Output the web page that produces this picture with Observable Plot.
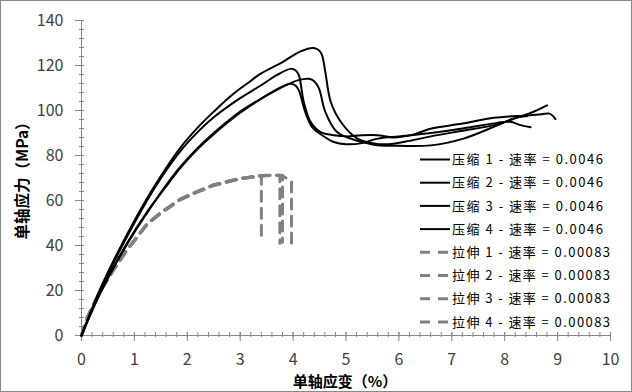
<!DOCTYPE html>
<html>
<head>
<meta charset="utf-8">
<script src="https://cdn.jsdelivr.net/npm/d3@7"></script>
<script src="https://cdn.jsdelivr.net/npm/@observablehq/plot@0.6"></script>
<style>
  html, body { margin: 0; padding: 0; background: #fff; }
  #chart svg { display: block; }
</style>
</head>
<body>
<div id="chart"></div>
<script>
// ---- data: [strain %, stress MPa] ----
const comp1 = [[0,0],[0.36,21],[0.74,39.5],[1.24,61],[1.56,73],[1.87,83.5],[2.2,92.5],[2.5,99.5],[2.85,107],[3.19,113],[3.38,116.3],[3.8,121.5],[4.14,126.3],[4.39,127.8],[4.5,126.5],[4.55,124.4],[4.61,117],[4.71,104],[4.9,95],[5.21,87.6],[5.5,85.5],[5.8,85],[6.2,86.5],[6.6,88.5],[7.2,91],[7.8,93.5],[8.2,96.5],[8.5,99],[8.8,102.3]];
const comp2 = [[0,0],[0.36,20.5],[0.74,38.5],[1.24,60],[1.56,72],[1.87,82],[2.2,90.5],[2.5,97],[3.0,105.5],[3.38,111],[3.7,115.8],[3.95,118.5],[4.05,117.8],[4.11,115.6],[4.2,104],[4.33,95],[4.52,90.4],[4.77,89],[5.0,88.5],[5.3,89],[5.6,89],[5.9,88],[6.3,89.5],[6.6,91.9],[7.2,94.2],[7.8,96.8],[8.42,97.8],[8.7,98.3],[8.85,98.6],[8.96,96.2]];
const comp3 = [[0,0],[0.36,19],[0.86,40.5],[1.24,54.5],[1.56,65.5],[1.87,75],[2.2,83.5],[2.5,90],[3.0,99.5],[3.38,105],[3.8,110.5],[4.1,113.5],[4.3,114.1],[4.4,113],[4.49,109.7],[4.61,99.3],[4.83,90.4],[5.09,87.5],[5.3,86],[5.6,84.5],[6.0,84.3],[6.6,84.5],[7.22,87.5],[7.86,93.4],[8.17,96.5],[8.42,97.5]];
const comp4 = [[0,0],[0.36,19.5],[0.86,41],[1.24,55],[1.56,65],[1.87,74.5],[2.2,83],[2.5,89.5],[3.0,99],[3.38,105],[3.7,109.5],[3.95,111.9],[4.05,111],[4.11,108.9],[4.23,99.3],[4.36,92.6],[4.55,89],[4.77,86],[5.0,85],[5.3,85.5],[5.6,87.5],[6.0,88.5],[6.6,90],[7.2,92],[7.86,94.5],[8.1,95],[8.3,93.5],[8.49,92.6]];

const tens1 = [[0,0],[0.11,8],[0.36,20],[0.6,29],[0.86,38],[1.24,49.5],[1.5,54.5],[1.87,60.5],[2.2,64],[2.5,66.8],[3.0,69.7],[3.4,71],[3.4,42]];
const tens2 = [[0,0],[0.11,8.2],[0.36,20.3],[0.6,29.3],[0.86,38.2],[1.24,49.7],[1.5,54.7],[1.87,60.7],[2.2,64.2],[2.5,67],[3.0,69.9],[3.4,71.1],[3.6,71.2],[3.75,71.2],[3.75,41]];
const tens3 = [[0,0],[0.11,7.9],[0.36,19.8],[0.6,28.8],[0.86,37.8],[1.24,49.3],[1.5,54.3],[1.87,60.3],[2.2,63.8],[2.5,66.6],[3.0,69.6],[3.4,70.9],[3.6,71.2],[3.8,71.2],[3.8,41.5]];
const tens4 = [[0,0],[0.11,8],[0.36,20.1],[0.6,29.1],[0.86,38.1],[1.24,49.6],[1.5,54.6],[1.87,60.6],[2.2,64.1],[2.5,66.9],[3.0,69.8],[3.4,71],[3.6,71.2],[3.8,71],[3.97,68.5],[3.97,40.5]];

const compNames = ["压缩 1 - 速率 = 0.0046","压缩 2 - 速率 = 0.0046","压缩 3 - 速率 = 0.0046","压缩 4 - 速率 = 0.0046"];
const tensNames = ["拉伸 1 - 速率 = 0.00083","拉伸 2 - 速率 = 0.00083","拉伸 3 - 速率 = 0.00083","拉伸 4 - 速率 = 0.00083"];

const xTicks = [0,1,2,3,4,5,6,7,8,9,10];
const yTicks = [0,20,40,60,80,100,120,140];
const xMinor = d3.range(0, 10.001, 0.2);
const yMinor = d3.range(0, 140.001, 4);

const xTitle = "单轴应变（%）";
const yTitle = "单轴应力（MPa）";

// ---- build rows ----
const compSets = [comp1, comp2, comp3, comp4];
const tensSets = [tens1, tens2, tens3, tens4];
const compRows = compSets.flatMap((s, k) => s.map(([x, y]) => ({x, y, k: compNames[k]})));
const tensRows = tensSets.flatMap((s, k) => s.map(([x, y]) => ({x, y, k: tensNames[k]})));

const axisColor = "#868686";
const font = "'Noto Sans CJK SC', 'Noto Sans', sans-serif";

const W = 632, H = 392;
const plot = Plot.plot({
  width: W, height: H,
  marginLeft: 81, marginRight: 22, marginTop: 20, marginBottom: 57,
  style: {fontFamily: font, background: "#fff", overflow: "visible"},
  x: {domain: [0, 10], label: null},
  y: {domain: [0, 140], label: null},
  marks: [
    // minor ticks
    Plot.ruleX(xMinor, {x: d => d, y1: 0, y2: 0, insetTop: -3, insetBottom: -2, stroke: axisColor}),
    Plot.ruleY(yMinor, {y: d => d, x1: 0, x2: 0, insetLeft: -2, insetRight: -3, stroke: axisColor}),
    // major ticks
    Plot.ruleX(xTicks, {x: d => d, y1: 0, y2: 0, insetTop: -3, insetBottom: -6, stroke: axisColor}),
    Plot.ruleY(yTicks, {y: d => d, x1: 0, x2: 0, insetLeft: -6, insetRight: -3, stroke: axisColor}),
    // axis lines
    Plot.ruleY([0], {stroke: axisColor}),
    Plot.ruleX([0], {stroke: axisColor}),
    Plot.axisX({ticks: xTicks, tickSize: 0, tickPadding: 18, fontSize: 16, fill: "#404040", tickFormat: d => d}),
    Plot.axisY({ticks: yTicks, tickSize: 0, tickPadding: 18, fontSize: 16, fill: "#404040", tickFormat: d => d}),
    // tension curves
    Plot.line(tensRows, {x: "x", y: "y", z: "k", stroke: "#808080", strokeWidth: 3, strokeDasharray: "10,7", curve: "linear"}),
    // compression curves
    Plot.line(compRows, {x: "x", y: "y", z: "k", stroke: "#000", strokeWidth: 2, curve: "catmull-rom"})
  ]
});

document.getElementById("chart").appendChild(plot);

// ---- decoration: border, titles, legend ----
const svg = d3.select(plot);
svg.append("rect").attr("x", 0.5).attr("y", 0.5).attr("width", W - 1).attr("height", H - 1)
  .attr("fill", "none").attr("stroke", "#878787").attr("stroke-width", 1);

svg.append("text").text(xTitle)
  .attr("x", 345).attr("y", 387).attr("text-anchor", "middle")
  .attr("font-family", font).attr("font-size", 15).attr("font-weight", "bold").attr("fill", "#000");

svg.append("text").text(yTitle)
  .attr("transform", "translate(28,177) rotate(-90)").attr("text-anchor", "middle")
  .attr("font-family", font).attr("font-size", 15.5).attr("font-weight", "bold").attr("fill", "#000");

const legendItems = compNames.map(n => ({n, dash: null, color: "#000", w: 2, len: 151}))
  .concat(tensNames.map(n => ({n, dash: "10,8", color: "#808080", w: 3, len: 158})));
const lg = svg.append("g").attr("text-anchor", "start");
legendItems.forEach((d, i) => {
  const y = 159.5 + i * 23.2;
  lg.append("line").attr("x1", 420).attr("x2", 450).attr("y1", y).attr("y2", y)
    .attr("stroke", d.color).attr("stroke-width", d.w).attr("stroke-dasharray", d.dash);
  lg.append("text").text(d.n).attr("x", 452).attr("y", y).attr("dy", "0.36em")
    .attr("text-anchor", "start")
    .attr("textLength", d.len).attr("lengthAdjust", "spacing")
    .attr("font-family", font).attr("font-size", 13).attr("fill", "#000");
});
</script>
</body>
</html>
